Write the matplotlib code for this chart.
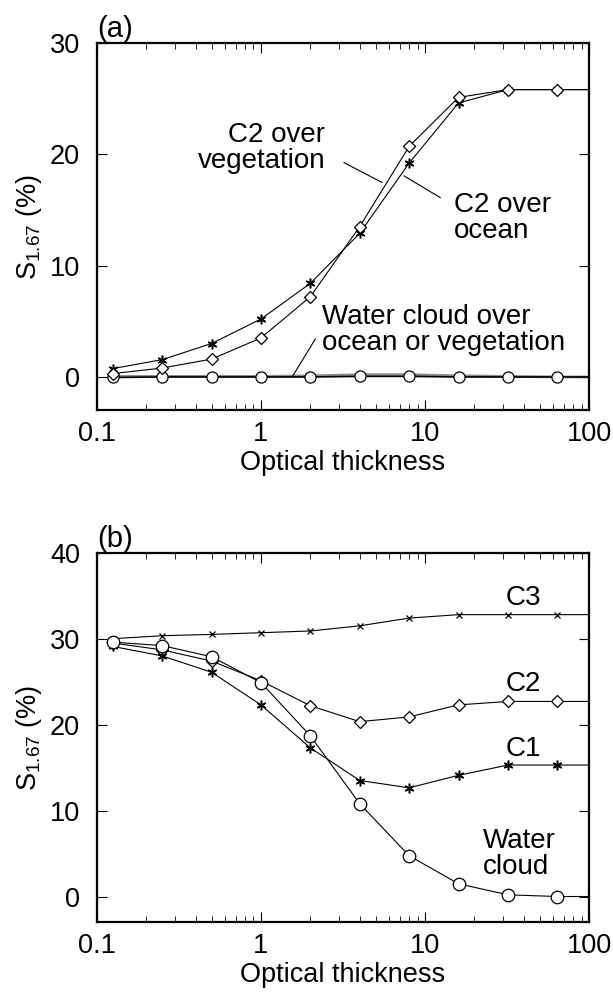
import numpy as np
import matplotlib
matplotlib.use("Agg")
import matplotlib.pyplot as plt
from matplotlib.ticker import LogLocator, FixedLocator, NullFormatter

plt.rcParams['font.family'] = ['Liberation Sans', 'DejaVu Sans']
plt.rcParams['mathtext.default'] = 'regular'

# optical thickness (last point lies past the axis so the curves run to the edge)
tau = [0.125, 0.25, 0.5, 1, 2, 4, 8, 16, 32, 64, 128]

# panel (a)
c2_veg = [0.75, 1.55, 3.0, 5.2, 8.4, 12.9, 19.2, 24.6, 25.8, 25.8, 25.8]
c2_ocean = [0.3, 0.8, 1.6, 3.5, 7.2, 13.5, 20.7, 25.1, 25.8, 25.8, 25.8]
water_veg = [0.05, 0.05, 0.05, 0.05, 0.1, 0.2, 0.2, 0.1, 0.05, 0.0, 0.0]
water_ocean = [-0.05, 0.0, 0.0, 0.0, 0.0, 0.05, 0.05, 0.0, 0.0, 0.0, 0.0]

# panel (b)
c3_b = [30.0, 30.35, 30.5, 30.7, 30.9, 31.5, 32.4, 32.8, 32.8, 32.8, 32.8]
c2_b = [29.5, 28.7, 27.4, 25.1, 22.2, 20.35, 20.9, 22.3, 22.7, 22.7, 22.7]
c1_b = [29.1, 28.0, 26.1, 22.3, 17.3, 13.5, 12.65, 14.1, 15.3, 15.3, 15.3]
water_b = [29.6, 29.2, 27.9, 24.9, 18.7, 10.8, 4.75, 1.48, 0.2, 0.0, 0.0]

xticks = [0.1, 1, 10, 100]
xticklabels = ['0.1', '1', '10', '100']

asterisk = (6, 2, 0)
fs = 19.5
fa = 20

fig = plt.figure(figsize=(6.13, 9.96), dpi=100)
ax1 = fig.add_axes([0.158, 0.588, 0.803, 0.369])
ax2 = fig.add_axes([0.158, 0.074, 0.803, 0.371])


def style(ax, ylim, yticks, tag):
    ax.set_xscale('log')
    ax.set_xlim(0.1, 100)
    ax.set_ylim(*ylim)
    ax.set_xticks(xticks)
    ax.set_xticklabels(xticklabels)
    ax.xaxis.set_minor_locator(LogLocator(base=10, subs=np.arange(2, 10)))
    ax.xaxis.set_minor_formatter(NullFormatter())
    ax.yaxis.set_major_locator(FixedLocator(yticks))
    ax.tick_params(which='both', direction='in', top=True, right=True,
                   labelsize=fs)
    ax.tick_params(axis='y', pad=12)
    ax.tick_params(axis='x', pad=8)
    ax.tick_params(which='major', length=7, width=0.8)
    ax.tick_params(which='minor', length=4, width=0.6)
    for s in ax.spines.values():
        s.set_linewidth(1.6)
    ax.set_xlabel('Optical thickness', fontsize=fs, labelpad=2)
    ax.set_ylabel(r'$S_{1.67}$ (%)', fontsize=fs, labelpad=4)
    ax.text(0.0, 1.0, tag, transform=ax.transAxes, fontsize=21,
            ha='left', va='bottom')


# ---- (a)
ax1.plot(tau, water_veg, color='0.55', lw=2.0, marker='s', ms=4,
         mfc='white', mec='black', mew=0.8)
ax1.plot(tau, water_ocean, color='black', lw=1.2, marker='o', ms=8,
         mfc='white', mec='black', mew=0.9)
ax1.plot(tau, c2_veg, color='black', lw=0.8, marker=asterisk, ms=7, mew=1.1)
ax1.plot(tau, c2_ocean, color='black', lw=0.8, marker='D', ms=6,
         mfc='white', mec='black', mew=0.9)
style(ax1, (-3, 30), [0, 10, 20, 30], '(a)')

ax1.text(2.47, 20.6, 'C2 over\nvegetation', fontsize=fa, ha='right',
         va='center', linespacing=1.0)
ax1.text(15.0, 14.3, 'C2 over\nocean', fontsize=fa, ha='left',
         va='center', linespacing=1.0)
ax1.text(2.36, 4.25, 'Water cloud over\nocean or vegetation', fontsize=fa,
         ha='left', va='center', linespacing=1.0)
leader = dict(arrowstyle='-', lw=0.8, color='black', shrinkA=0, shrinkB=0)
ax1.annotate('', xy=(5.48, 17.46), xytext=(3.2, 19.25), arrowprops=leader)
ax1.annotate('', xy=(7.43, 18.06), xytext=(12.4, 16.1), arrowprops=leader)
ax1.annotate('', xy=(1.55, 0.0), xytext=(2.15, 3.43), arrowprops=leader)

# ---- (b)
ax2.plot(tau, c3_b, color='black', lw=0.8, marker='x', ms=5, mew=0.9)
ax2.plot(tau, c2_b, color='black', lw=0.8, marker='D', ms=6,
         mfc='white', mec='black', mew=0.9)
ax2.plot(tau, c1_b, color='black', lw=0.8, marker=asterisk, ms=7, mew=1.1)
ax2.plot(tau, water_b, color='black', lw=0.8, marker='o', ms=9,
         mfc='white', mec='black', mew=0.9)
style(ax2, (-3, 40), [0, 10, 20, 30, 40], '(b)')

ax2.text(31.0, 34.7, 'C3', fontsize=fa, ha='left', va='center')
ax2.text(31.0, 24.7, 'C2', fontsize=fa, ha='left', va='center')
ax2.text(31.0, 17.2, 'C1', fontsize=fa, ha='left', va='center')
ax2.text(22.4, 5.0, 'Water\ncloud', fontsize=fa, ha='left', va='center',
         linespacing=1.0)

fig.savefig('out.png', dpi=100)
